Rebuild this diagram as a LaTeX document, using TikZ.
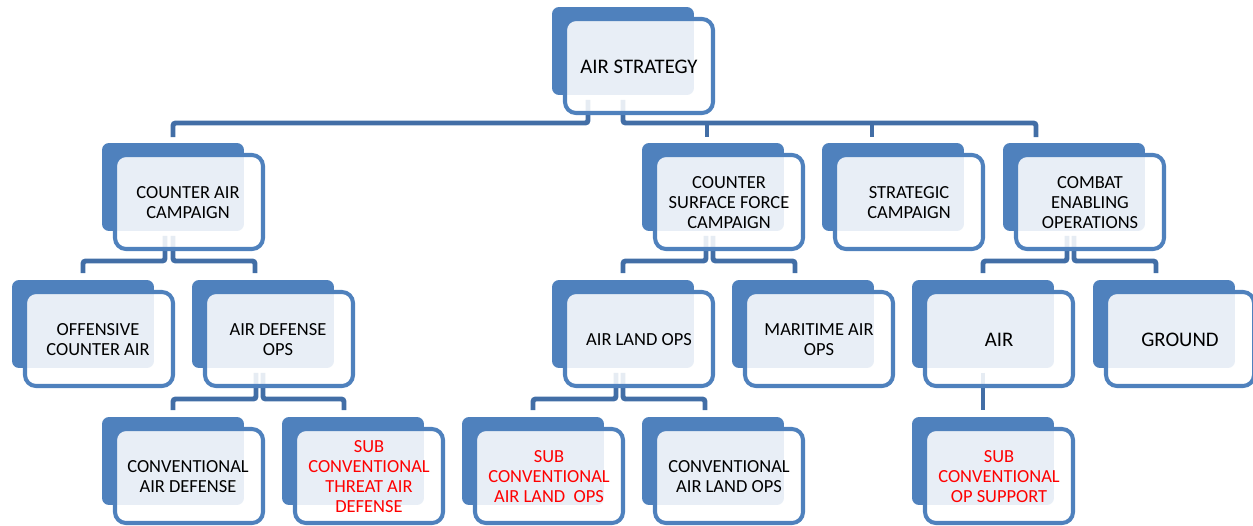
\documentclass[tikz,border=0pt]{standalone}
\usepackage{fontspec}
\setmainfont{Carlito}
\usepackage{tikz}
\usetikzlibrary{calc,positioning}
\definecolor{boxblue}{RGB}{79,129,189}
\definecolor{linkblue}{RGB}{66,110,166}
\definecolor{subred}{RGB}{255,0,0}
\tikzset{
  backbox/.style={fill=boxblue,rounded corners=0.14cm,minimum width=2.84cm,minimum height=1.76cm,
    inner sep=0pt,outer sep=0pt,anchor=north west},
  frontbox/.style={draw=boxblue,line width=2.3pt,rounded corners=0.22cm,fill=white,fill opacity=0.87},
  link/.style={draw=linkblue,line width=2.8pt,rounded corners=1.5pt},
  lbl/.style={align=center,inner sep=0pt,font=\fontsize{10.5}{11.4}\selectfont},
  biglbl/.style={lbl,font=\fontsize{11.8}{13}\selectfont},
  sublbl/.style={lbl,text=subred},
}

\begin{document}
\begin{tikzpicture}[x=0.02cm,y=-0.02cm]
\useasboundingbox (0,0) rectangle (1253,525);
%%%%% back boxes:
\foreach \nm/\bx/\by in {as/552/7, ca/102/143, csfc/642/143, strat/822/143, ceo/1003/143,
  oca/12/280, ado/192/280, alo/552/280, mao/732/280, air/912/280, gnd/1093/280,
  cad/102/417, sctad/282/417, scalo/462/417, calo/642/417, scos/912/417}{
  \node[backbox] (\nm) at (\bx,\by) {};
}
%%%%% links, level 0:
\draw[link] ($(as.south)+(-35,5)$) |- ($(ca.north)+(0,-20)$) -- ($(ca.north)+(0,-6)$);
\draw[link] ($(as.south)+(0,5)$) |- ($(ceo.north)+(-38,-20)$) -- ($(ceo.north)+(-38,-6)$);
\draw[link] ($(csfc.north)+(-6,-20)$) -- ($(csfc.north)+(-6,-6)$);
\draw[link] ($(strat.north)+(-21,-20)$) -- ($(strat.north)+(-21,-6)$);
%%%%% links, level 1:
\draw[link] ($(ca.south)+(-8,5)$) |- ($(oca.north)+(0,-19)$) -- ($(oca.north)+(0,-7)$);
\draw[link] ($(ca.south)+(0,5)$) |- ($(ado.north)+(-8,-19)$) -- ($(ado.north)+(-8,-7)$);
\draw[link] ($(csfc.south)+(-7,5)$) |- ($(alo.north)+(0,-19)$) -- ($(alo.north)+(0,-7)$);
\draw[link] ($(csfc.south)+(0,5)$) |- ($(mao.north)+(-8,-19)$) -- ($(mao.north)+(-8,-7)$);
\draw[link] ($(ceo.south)+(-7,5)$) |- ($(air.north)+(0,-19)$) -- ($(air.north)+(0,-7)$);
\draw[link] ($(ceo.south)+(0,5)$) |- ($(gnd.north)+(-8,-19)$) -- ($(gnd.north)+(-8,-7)$);
%%%%% links, level 2:
\draw[link] ($(ado.south)+(-7,5)$) |- ($(cad.north)+(0,-18)$) -- ($(cad.north)+(0,-7)$);
\draw[link] ($(ado.south)+(0,5)$) |- ($(sctad.north)+(-9,-18)$) -- ($(sctad.north)+(-9,-7)$);
\draw[link] ($(alo.south)+(-7,5)$) |- ($(scalo.north)+(0,-18)$) -- ($(scalo.north)+(0,-7)$);
\draw[link] ($(alo.south)+(0,5)$) |- ($(calo.north)+(-8,-18)$) -- ($(calo.north)+(-8,-7)$);
\draw[link] ($(air.south)+(0,5)$) -- ($(scos.north)+(0,-7)$);
%%%%% front boxes:
\foreach \nm in {as,ca,csfc,strat,ceo,oca,ado,alo,mao,air,gnd,cad,sctad,scalo,calo,scos}{
  \draw[frontbox] ($(\nm.north west)+(13,12)$) rectangle ++(148,94);
}
%%%%% labels:
\node[biglbl] (as-t) at ($(as.north west)+(87,60)$) {AIR STRATEGY};
\node[lbl] (ca-t) at ($(ca.north west)+(86,60)$) {COUNTER AIR\\CAMPAIGN};
\node[lbl] (csfc-t) at ($(csfc.north west)+(87,60)$) {COUNTER\\SURFACE FORCE\\CAMPAIGN};
\node[lbl] (strat-t) at ($(strat.north west)+(87,60)$) {STRATEGIC\\CAMPAIGN};
\node[lbl] (ceo-t) at ($(ceo.north west)+(87,60)$) {COMBAT\\ENABLING\\OPERATIONS};
\node[lbl] (oca-t) at ($(oca.north west)+(86,60)$) {OFFENSIVE\\COUNTER AIR};
\node[lbl] (ado-t) at ($(ado.north west)+(86,60)$) {AIR DEFENSE\\OPS};
\node[lbl] (alo-t) at ($(alo.north west)+(87,60)$) {AIR LAND OPS};
\node[lbl] (mao-t) at ($(mao.north west)+(87,60)$) {MARITIME AIR\\OPS};
\node[biglbl] (air-t) at ($(air.north west)+(87,60)$) {AIR};
\node[biglbl] (gnd-t) at ($(gnd.north west)+(87,60)$) {GROUND};
\node[lbl] (cad-t) at ($(cad.north west)+(86,60)$) {CONVENTIONAL\\AIR DEFENSE};
\node[sublbl] (sctad-t) at ($(sctad.north west)+(87,60)$) {SUB\\CONVENTIONAL\\THREAT AIR\\DEFENSE};
\node[sublbl] (scalo-t) at ($(scalo.north west)+(87,60)$) {SUB\\CONVENTIONAL\\AIR LAND\ \ OPS};
\node[lbl] (calo-t) at ($(calo.north west)+(87,60)$) {CONVENTIONAL\\AIR LAND OPS};
\node[sublbl] (scos-t) at ($(scos.north west)+(87,60)$) {SUB\\CONVENTIONAL\\OP SUPPORT};
\end{tikzpicture}
\end{document}
